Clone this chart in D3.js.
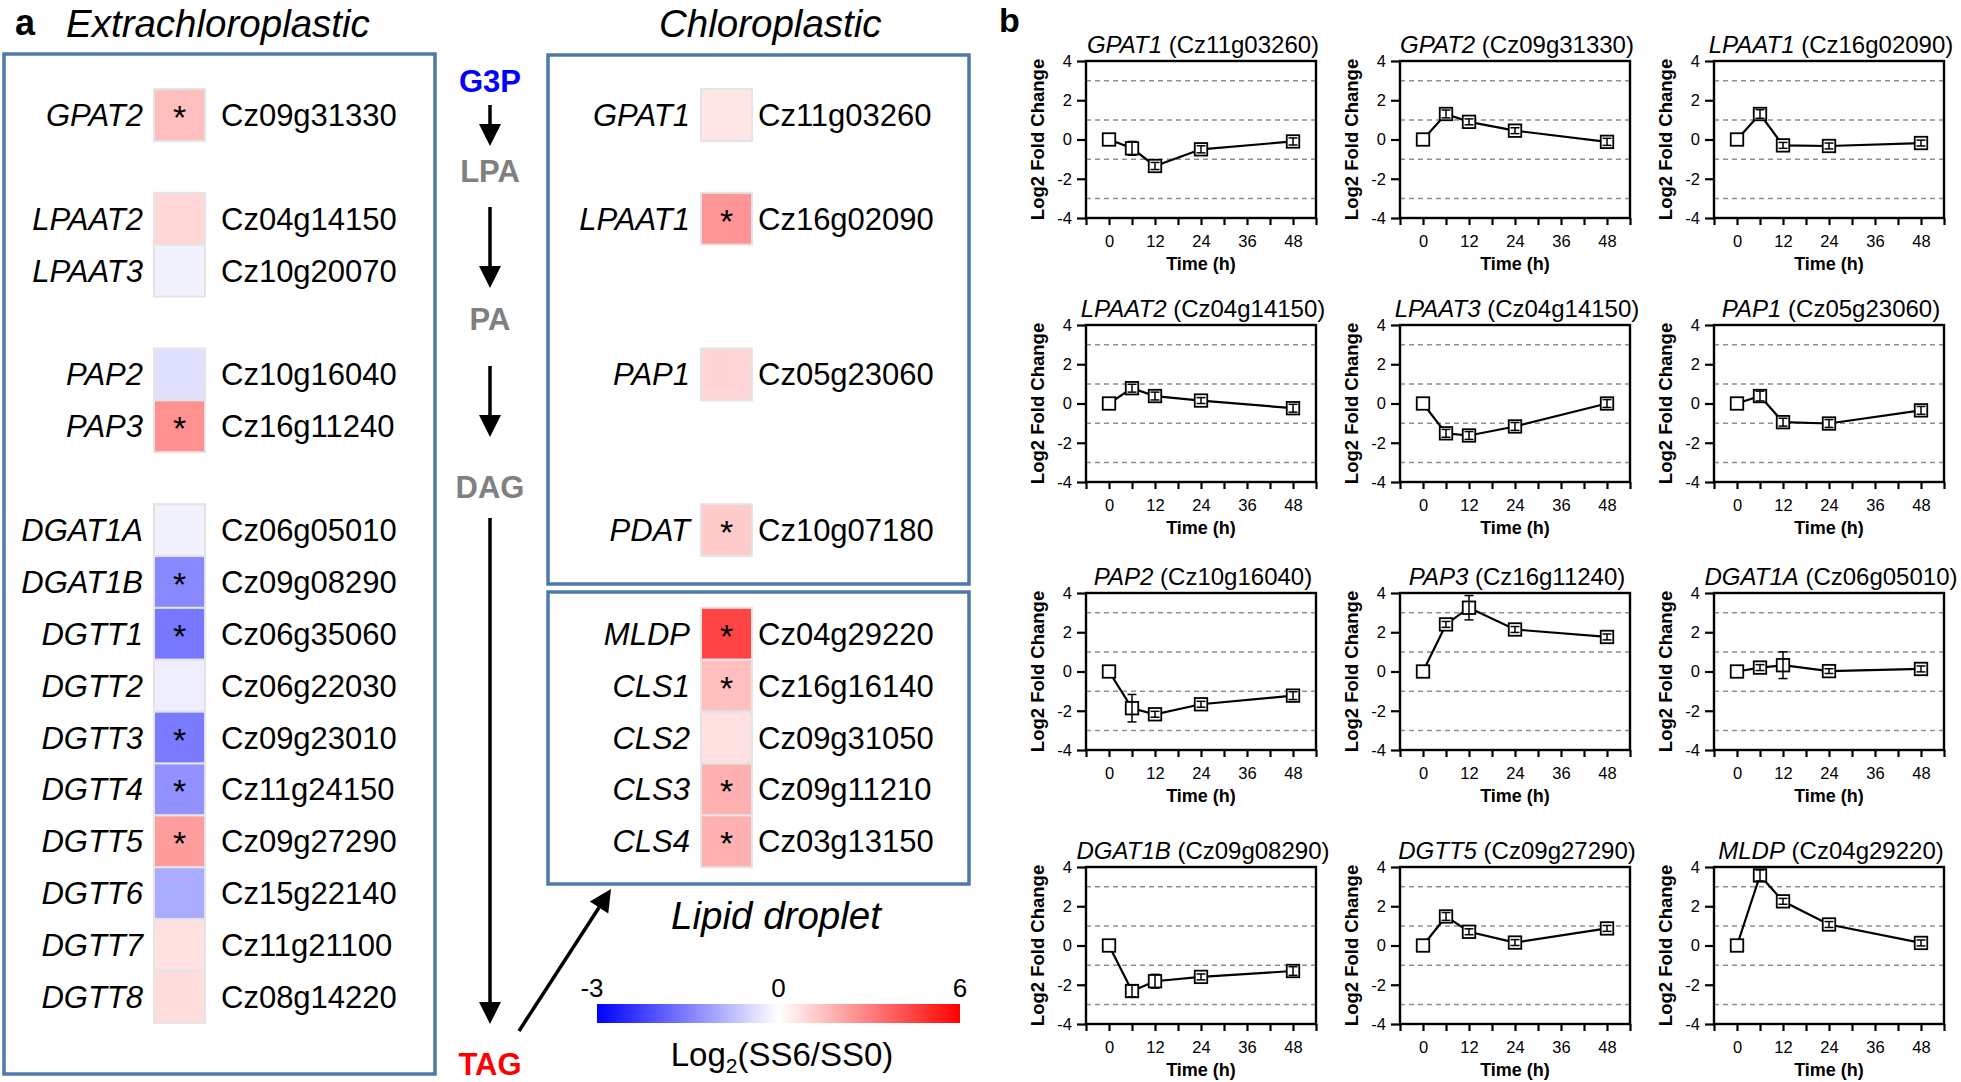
<!DOCTYPE html>
<html><head><meta charset="utf-8">
<script src="https://cdn.jsdelivr.net/npm/d3@7"></script>
<style>
body{margin:0;background:#fff;}
svg{display:block;font-family:"Liberation Sans",Arial,Helvetica,sans-serif;}
</style>
</head><body>
<svg id="c" width="1961" height="1082"></svg>
<script>
// ---------------- DATA ----------------
// Panel a : heatmap of Log2(SS6/SS0); null entries are empty spacer rows
const extraGenes  = ["GPAT2", null, "LPAAT2", "LPAAT3", null, "PAP2", "PAP3", null, "DGAT1A", "DGAT1B", "DGTT1", "DGTT2", "DGTT3", "DGTT4", "DGTT5", "DGTT6", "DGTT7", "DGTT8"];
const extraIds    = ["Cz09g31330", null, "Cz04g14150", "Cz10g20070", null, "Cz10g16040", "Cz16g11240", null, "Cz06g05010", "Cz09g08290", "Cz06g35060", "Cz06g22030", "Cz09g23010", "Cz11g24150", "Cz09g27290", "Cz15g22140", "Cz11g21100", "Cz08g14220"];
const extraValues = [1.5, null, 0.95, -0.15, null, -0.36, 2.6, null, -0.15, -1.4, -1.6, -0.2, -1.55, -1.3, 2.3, -1.0, 0.7, 0.8];
const extraSig    = [true, null, false, false, null, false, true, null, false, true, true, false, true, true, true, false, false, false];

const chloroGenes  = ["GPAT1", null, "LPAAT1", null, null, "PAP1", null, null, "PDAT"];
const chloroIds    = ["Cz11g03260", null, "Cz16g02090", null, null, "Cz05g23060", null, null, "Cz10g07180"];
const chloroValues = [0.6, null, 2.5, null, null, 1.0, null, null, 1.25];
const chloroSig    = [false, null, true, null, null, false, null, null, true];

const lipidGenes  = ["MLDP", "CLS1", "CLS2", "CLS3", "CLS4"];
const lipidIds    = ["Cz04g29220", "Cz16g16140", "Cz09g31050", "Cz09g11210", "Cz03g13150"];
const lipidValues = [4.4, 1.5, 0.7, 1.85, 1.85];
const lipidSig    = [true, true, false, true, true];

const colorDomain = [-3, 0, 6];
const metabolites = ["G3P", "LPA", "PA", "DAG", "TAG"];

// Panel b : time courses
const times = [0, 6, 12, 24, 48];
const panelGenes = ["GPAT1","GPAT2","LPAAT1","LPAAT2","LPAAT3","PAP1","PAP2","PAP3","DGAT1A","DGAT1B","DGTT5","MLDP"];
const panelIds   = ["Cz11g03260","Cz09g31330","Cz16g02090","Cz04g14150","Cz04g14150","Cz05g23060","Cz10g16040","Cz16g11240","Cz06g05010","Cz09g08290","Cz09g27290","Cz04g29220"];
const panelMeans = [
  [0, -0.45, -1.35, -0.5, -0.1],
  [0, 1.3, 0.9, 0.45, -0.12],
  [0, 1.3, -0.3, -0.33, -0.18],
  [0, 0.78, 0.38, 0.15, -0.24],
  [0, -1.52, -1.63, -1.17, 0.0],
  [0, 0.38, -0.95, -1.02, -0.35],
  [0, -1.87, -2.18, -1.67, -1.23],
  [0, 2.4, 3.25, 2.14, 1.76],
  [0, 0.2, 0.32, 0.02, 0.13],
  [0, -2.32, -1.82, -1.6, -1.3],
  [0, 1.48, 0.7, 0.15, 0.87],
  [0, 3.57, 2.25, 1.07, 0.13]
];
const panelErrors = [
  [0, 0.35, 0.18, 0.18, 0.18],
  [0, 0.2, 0.15, 0.15, 0.18],
  [0, 0.22, 0.15, 0.15, 0.15],
  [0, 0.2, 0.2, 0.15, 0.2],
  [0, 0.2, 0.2, 0.2, 0.2],
  [0, 0.25, 0.2, 0.2, 0.2],
  [0, 0.7, 0.15, 0.15, 0.2],
  [0, 0.15, 0.62, 0.15, 0.15],
  [0, 0.15, 0.68, 0.12, 0.15],
  [0, 0.3, 0.35, 0.15, 0.22],
  [0, 0.2, 0.15, 0.15, 0.15],
  [0, 0.28, 0.15, 0.15, 0.15]
];
const yTicks = [-4, -2, 0, 2, 4];
const gridValues = [-3, -1, 1, 3];
const xTicks = [-6, 0, 6, 12, 18, 24, 30, 36, 42, 48, 54];
const xLabelTicks = [0, 12, 24, 36, 48];

// ---------------- DRAW ----------------
const svg = d3.select("#c");
const BOX = "#4e79a7";
const color = d3.scaleLinear().domain(colorDomain).range(["#0000ff", "#ffffff", "#ff0000"]);

// panel labels / titles
svg.append("text").attr("x", 15).attr("y", 35).attr("font-size", 36).attr("font-weight", "bold").text("a");
svg.append("text").attr("x", 999).attr("y", 32).attr("font-size", 34).attr("font-weight", "bold").text("b");
svg.append("text").attr("x", 66).attr("y", 37).attr("font-size", 38.5).attr("font-style", "italic").text("Extrachloroplastic");
svg.append("text").attr("x", 659).attr("y", 37).attr("font-size", 38.5).attr("font-style", "italic").text("Chloroplastic");
svg.append("text").attr("x", 776).attr("y", 929).attr("font-size", 38.5).attr("font-style", "italic").attr("text-anchor", "middle").text("Lipid droplet");

// boxes
const boxes = [[4, 54, 431, 1020], [548, 55, 421, 529], [548, 592, 421, 292]];
svg.selectAll("rect.box").data(boxes).join("rect").attr("class", "box")
  .attr("x", d => d[0]).attr("y", d => d[1]).attr("width", d => d[2]).attr("height", d => d[3])
  .attr("fill", "none").attr("stroke", BOX).attr("stroke-width", 3.5);

// shared row scale
const slotY = d3.scaleLinear().domain([0, 17]).range([115, 997]);
const step = slotY(1) - slotY(0);
const cellW = 51;

function drawColumn(genes, ids, vals, sig, yOf, cellX, nameRight, idLeft) {
  const rows = genes.map((g, i) => ({g, id: ids[i], v: vals[i], s: sig[i], cy: yOf(i)})).filter(d => d.g);
  const g = svg.append("g");
  g.selectAll("rect").data(rows).join("rect")
    .attr("x", cellX).attr("y", d => d.cy - step / 2).attr("width", cellW).attr("height", step)
    .attr("fill", d => color(d.v)).attr("stroke", "#e4e4e4").attr("stroke-width", 2);
  g.selectAll("text.name").data(rows).join("text").attr("class", "name")
    .attr("x", nameRight).attr("y", d => d.cy + 11).attr("text-anchor", "end")
    .attr("font-size", 31).attr("font-style", "italic").text(d => d.g);
  g.selectAll("text.id").data(rows).join("text").attr("class", "id")
    .attr("x", idLeft).attr("y", d => d.cy + 11)
    .attr("font-size", 31).text(d => d.id);
  g.selectAll("text.star").data(rows.filter(d => d.s)).join("text").attr("class", "star")
    .attr("x", cellX + cellW / 2).attr("y", d => d.cy + 14).attr("text-anchor", "middle")
    .attr("font-size", 34).text("*");
}
drawColumn(extraGenes, extraIds, extraValues, extraSig, i => slotY(i), 154, 143, 221);
drawColumn(chloroGenes, chloroIds, chloroValues, chloroSig, i => slotY(i), 701, 690, 758);
drawColumn(lipidGenes, lipidIds, lipidValues, lipidSig, i => slotY(10 + i), 701, 690, 758);

// pathway metabolites
const metY = [92, 182, 330, 498, 1075];
const metCol = ["#0000ff", "#808080", "#808080", "#808080", "#ff0000"];
svg.selectAll("text.met").data(metabolites).join("text").attr("class", "met")
  .attr("x", 490).attr("y", (d, i) => metY[i]).attr("text-anchor", "middle")
  .attr("font-size", 31).attr("font-weight", "bold").attr("fill", (d, i) => metCol[i]).text(d => d);

function arrow(x1, y1, x2, y2) {
  const a = Math.atan2(y2 - y1, x2 - x1), L = 22, W = 11;
  const bx = x2 - L * Math.cos(a), by = y2 - L * Math.sin(a);
  svg.append("line").attr("x1", x1).attr("y1", y1).attr("x2", bx).attr("y2", by)
    .attr("stroke", "#000").attr("stroke-width", 3.5);
  const px = -Math.sin(a) * W, py = Math.cos(a) * W;
  svg.append("polygon").attr("points", `${x2},${y2} ${bx + px},${by + py} ${bx - px},${by - py}`).attr("fill", "#000");
}
arrow(490, 105, 490, 146);
arrow(490, 207, 490, 288);
arrow(490, 366, 490, 437);
arrow(490, 518, 490, 1024);
arrow(519, 1031, 611, 889);

// color bar
const cbX = d3.scaleLinear().domain(colorDomain).range([597, 778.5, 960]);
const grad = svg.append("defs").append("linearGradient").attr("id", "cb");
d3.range(0, 1.0001, 0.05).forEach(t => {
  const v = cbX.invert(597 + t * (960 - 597));
  grad.append("stop").attr("offset", t).attr("stop-color", color(v));
});
svg.append("rect").attr("x", 597).attr("y", 1004).attr("width", 363).attr("height", 19).attr("fill", "url(#cb)");
svg.selectAll("text.cbt").data(colorDomain).join("text").attr("class", "cbt")
  .attr("x", d => cbX(d) + (d < 0 ? -5 : 0)).attr("y", 997).attr("text-anchor", "middle")
  .attr("font-size", 26).text(d => String(d));
const lt = svg.append("text").attr("x", 782).attr("y", 1066).attr("text-anchor", "middle").attr("font-size", 33);
lt.append("tspan").text("Log");
lt.append("tspan").attr("font-size", 21).attr("dy", 7).text("2");
lt.append("tspan").attr("dy", -7).text("(SS6/SS0)");

// ---------------- Panel b ----------------
const colX = [1086, 1400, 1714], rowY = [61, 325, 593, 867];
const pw = 230, ph = 157;
const x = d3.scaleLinear().domain([-6, 54]).range([0, pw]);
const y = d3.scaleLinear().domain([-4, 4]).range([ph, 0]);
const line = d3.line().x(d => x(d[0])).y(d => y(d[1]));

panelGenes.forEach((gene, i) => {
  const gx = colX[i % 3], gy = rowY[Math.floor(i / 3)];
  const p = svg.append("g").attr("transform", `translate(${gx},${gy})`);
  p.selectAll("line.grid").data(gridValues).join("line").attr("class", "grid")
    .attr("x1", 0).attr("x2", pw).attr("y1", d => y(d)).attr("y2", d => y(d))
    .attr("stroke", "#8f8f8f").attr("stroke-width", 1.5).attr("stroke-dasharray", "5,4");
  // axes
  const ya = p.append("g").call(d3.axisLeft(y).tickValues(yTicks).tickSize(9).tickPadding(5).tickFormat(d => String(d)));
  ya.select(".domain").remove();
  ya.selectAll("line").attr("stroke-width", 2.2);
  ya.selectAll("text").attr("font-size", 16.5).attr("font-family", "Liberation Sans, Arial, sans-serif").attr("fill", "#000");
  const xa = p.append("g").attr("transform", `translate(0,${ph})`)
    .call(d3.axisBottom(x).tickValues(xTicks).tickSize(7).tickPadding(10).tickFormat(d => xLabelTicks.includes(d) ? String(d) : ""));
  xa.select(".domain").remove();
  xa.selectAll("line").attr("stroke-width", 2.2);
  xa.selectAll("text").attr("font-size", 16.5).attr("font-family", "Liberation Sans, Arial, sans-serif").attr("fill", "#000");
  p.append("rect").attr("width", pw).attr("height", ph).attr("fill", "none").attr("stroke", "#000").attr("stroke-width", 2.4);
  // labels
  p.append("text").attr("transform", `translate(-49,${ph / 2}) rotate(-90)`).attr("text-anchor", "middle")
    .attr("dominant-baseline", "central").attr("font-size", 18.5).attr("font-weight", "bold").text("Log2 Fold Change");
  p.append("text").attr("x", pw / 2).attr("y", ph + 52).attr("text-anchor", "middle")
    .attr("font-size", 18).attr("font-weight", "bold").text("Time (h)");
  const t = p.append("text").attr("x", pw / 2 + 2).attr("y", -8).attr("text-anchor", "middle").attr("font-size", 24);
  t.append("tspan").attr("font-style", "italic").text(gene);
  t.append("tspan").text(" (" + panelIds[i] + ")");
  // data
  const pts = times.map((tm, j) => [tm, panelMeans[i][j], panelErrors[i][j]]);
  p.append("path").attr("d", line(pts)).attr("fill", "none").attr("stroke", "#000").attr("stroke-width", 2.2);
  const s = 12.5;
  p.selectAll("rect.m").data(pts).join("rect").attr("class", "m")
    .attr("x", d => x(d[0]) - s / 2).attr("y", d => y(d[1]) - s / 2).attr("width", s).attr("height", s)
    .attr("fill", "#fff").attr("stroke", "#000").attr("stroke-width", 1.8);
  const eb = p.selectAll("g.eb").data(pts.filter(d => d[2] > 0)).join("g").attr("class", "eb");
  eb.append("line").attr("x1", d => x(d[0])).attr("x2", d => x(d[0]))
    .attr("y1", d => y(d[1] - d[2])).attr("y2", d => y(d[1] + d[2])).attr("stroke", "#000").attr("stroke-width", 1.5);
  [1, -1].forEach(sg => {
    eb.append("line").attr("x1", d => x(d[0]) - 4.5).attr("x2", d => x(d[0]) + 4.5)
      .attr("y1", d => y(d[1] + sg * d[2])).attr("y2", d => y(d[1] + sg * d[2])).attr("stroke", "#000").attr("stroke-width", 1.5);
  });
});
</script>
</body></html>
